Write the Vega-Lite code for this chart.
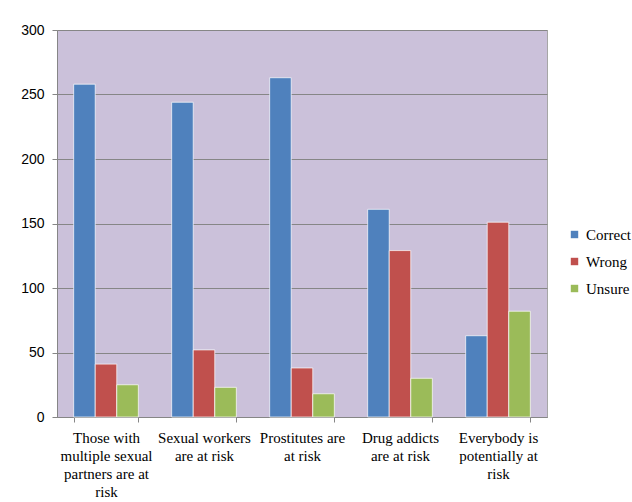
{
  "$schema": "https://vega.github.io/schema/vega-lite/v6.json",
  "width": 490,
  "height": 387,
  "autosize": {"type": "none"},
  "padding": {"left": 57, "top": 30, "right": 85, "bottom": 85},
  "background": "#ffffff",
  "data": {
    "values": [
      {"category": "Those with multiple sexual partners are at risk", "answer": "Correct", "count": 258},
      {"category": "Those with multiple sexual partners are at risk", "answer": "Wrong", "count": 41},
      {"category": "Those with multiple sexual partners are at risk", "answer": "Unsure", "count": 25},
      {"category": "Sexual workers are at risk", "answer": "Correct", "count": 244},
      {"category": "Sexual workers are at risk", "answer": "Wrong", "count": 52},
      {"category": "Sexual workers are at risk", "answer": "Unsure", "count": 23},
      {"category": "Prostitutes are at risk", "answer": "Correct", "count": 263},
      {"category": "Prostitutes are at risk", "answer": "Wrong", "count": 38},
      {"category": "Prostitutes are at risk", "answer": "Unsure", "count": 18},
      {"category": "Drug addicts are at risk", "answer": "Correct", "count": 161},
      {"category": "Drug addicts are at risk", "answer": "Wrong", "count": 129},
      {"category": "Drug addicts are at risk", "answer": "Unsure", "count": 30},
      {"category": "Everybody is potentially at risk", "answer": "Correct", "count": 63},
      {"category": "Everybody is potentially at risk", "answer": "Wrong", "count": 151},
      {"category": "Everybody is potentially at risk", "answer": "Unsure", "count": 82}
    ]
  },
  "mark": {"type": "bar", "stroke": "#ffffff", "strokeOpacity": 0.7, "strokeWidth": 1},
  "encoding": {
    "x": {
      "field": "category",
      "type": "nominal",
      "sort": null,
      "title": null,
      "scale": {"paddingInner": 0.34, "paddingOuter": 0.17},
      "axis": {
        "labelAngle": 0,
        "labelFont": "Liberation Serif",
        "labelFontSize": 15,
        "labelColor": "#000000",
        "labelLineHeight": 18,
        "labelLimit": 0,
        "labelPadding": 8,
        "tickBand": "extent",
        "tickSize": 5,
        "tickColor": "#868686",
        "domainColor": "#868686",
        "labelExpr": "datum.label == 'Those with multiple sexual partners are at risk' ? ['Those with', 'multiple sexual', 'partners are at', 'risk'] : datum.label == 'Sexual workers are at risk' ? ['Sexual workers', 'are at risk'] : datum.label == 'Prostitutes are at risk' ? ['Prostitutes are', 'at risk'] : datum.label == 'Drug addicts are at risk' ? ['Drug addicts', 'are at risk'] : datum.label == 'Everybody is potentially at risk' ? ['Everybody is', 'potentially at', 'risk'] : ''"
      }
    },
    "xOffset": {
      "field": "answer",
      "type": "nominal",
      "sort": ["Correct", "Wrong", "Unsure"],
      "scale": {"paddingInner": 0, "paddingOuter": 0}
    },
    "y": {
      "field": "count",
      "type": "quantitative",
      "title": null,
      "scale": {"domain": [0, 300], "nice": false},
      "axis": {
        "values": [0, 50, 100, 150, 200, 250, 300],
        "labelFont": "Liberation Sans",
        "labelFontSize": 14,
        "labelColor": "#000000",
        "labelPadding": 8,
        "tickSize": 5,
        "tickColor": "#868686",
        "domainColor": "#868686",
        "gridColor": "#868686",
        "gridWidth": 1
      }
    },
    "color": {
      "field": "answer",
      "type": "nominal",
      "sort": ["Correct", "Wrong", "Unsure"],
      "scale": {"domain": ["Correct", "Wrong", "Unsure"], "range": ["#4F81BD", "#C0504D", "#9BBB59"]},
      "legend": {
        "title": null,
        "orient": "none",
        "legendX": 510,
        "legendY": 197,
        "symbolType": "square",
        "symbolSize": 55,
        "symbolStrokeWidth": 0,
        "labelFont": "Liberation Serif",
        "labelFontSize": 15,
        "labelColor": "#000000",
        "labelOffset": 4,
        "labelLimit": 0,
        "rowPadding": 11
      }
    }
  },
  "config": {
    "view": {"fill": "#CBC1DA", "stroke": "#a6a6a6", "strokeWidth": 1},
    "axis": {"gridOpacity": 1}
  }
}
